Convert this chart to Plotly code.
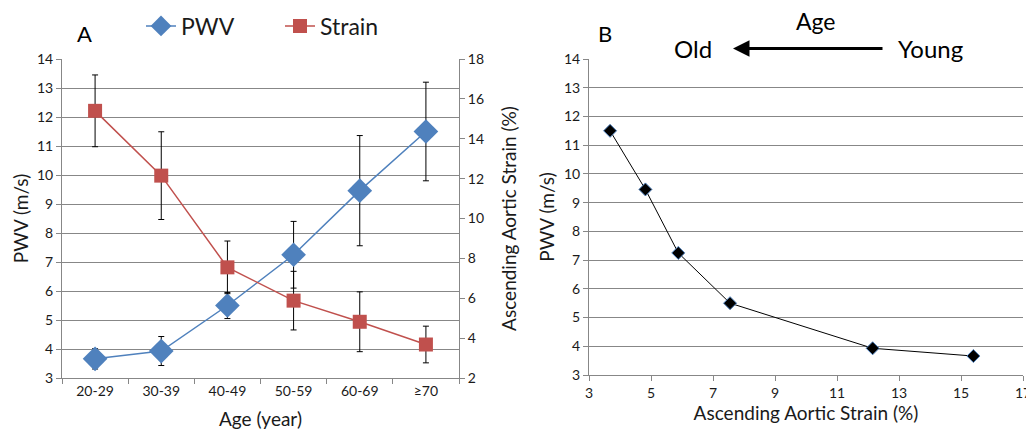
import plotly.graph_objects as go

# ---- data ----
age_groups = ["20-29", "30-39", "40-49", "50-59", "60-69", "\u226570"]
pwv = [3.66, 3.93, 5.50, 7.25, 9.46, 11.50]
pwv_err = [0.35, 0.50, 0.45, 1.15, 1.90, 1.70]
strain = [15.40, 12.15, 7.55, 5.88, 4.82, 3.68]
strain_err = [1.80, 2.20, 1.32, 1.47, 1.50, 0.92]

# page has an 8px body margin; positions below are given in window pixels
OFF = 8
W, H = 1024, 429
FONT = "Lato"
GRID = "#878787"
TXT = "#1a1a1a"

def px(x):
    return (x - OFF) / W

def py(y):
    return 1 - (y - OFF) / H

fig = go.Figure()

# Panel A
fig.add_trace(go.Scatter(
    x=age_groups, y=pwv, name="PWV", mode="lines+markers",
    line=dict(color="#4F81BD", width=1.5),
    marker=dict(symbol="diamond", size=19, color="#4F81BD"),
    error_y=dict(type="data", array=pwv_err, color="black", thickness=1, width=3),
    xaxis="x", yaxis="y"))
fig.add_trace(go.Scatter(
    x=age_groups, y=strain, name="Strain", mode="lines+markers",
    line=dict(color="#C0504D", width=1.5),
    marker=dict(symbol="square", size=14, color="#C0504D"),
    error_y=dict(type="data", array=strain_err, color="black", thickness=1, width=3),
    xaxis="x", yaxis="y2"))

# Panel B
fig.add_trace(go.Scatter(
    x=strain, y=pwv, mode="lines+markers", showlegend=False,
    line=dict(color="black", width=1),
    marker=dict(symbol="diamond", size=10, color="black",
                line=dict(color="#4F81BD", width=1)),
    xaxis="x3", yaxis="y3"))

TICKSZ = 14
TITLESZ = 19
axis_common = dict(showline=True, linecolor=GRID, linewidth=1, automargin=False,
                   tickfont=dict(family=FONT, size=TICKSZ, color=TXT),
                   ticks="outside", ticklen=5, tickcolor=GRID, zeroline=False)

def ttl(text, standoff):
    return dict(text=text, font=dict(family=FONT, size=TITLESZ, color=TXT), standoff=standoff)

fig.update_layout(
    template="none",
    width=W, height=H,
    margin=dict(l=0, r=0, t=0, b=0, autoexpand=False),
    paper_bgcolor="white", plot_bgcolor="white",
    font=dict(family=FONT, color=TXT),
    showlegend=True,
    legend=dict(orientation="h", x=px(141), y=py(26), xanchor="left", yanchor="middle",
                font=dict(family=FONT, size=23, color=TXT),
                entrywidth=94, itemsizing="trace", bgcolor="rgba(0,0,0,0)"),
    xaxis=dict(domain=[px(62), px(459)], anchor="y", type="category",
               range=[-0.5, 5.5], tickson="boundaries", showgrid=False,
               title=ttl("Age (year)", 14), **axis_common),
    yaxis=dict(domain=[py(378), py(59)], anchor="x", range=[3, 14], dtick=1,
               showgrid=True, gridcolor=GRID, gridwidth=1,
               title=ttl("PWV (m/s)", 3), **axis_common),
    yaxis2=dict(domain=[py(378), py(59)], anchor="x", overlaying="y", side="right",
                range=[2, 18], dtick=2, showgrid=False,
                title=ttl("Ascending Aortic Strain (%)", 19), **axis_common),
    xaxis3=dict(domain=[px(589), px(1023)], anchor="y3", range=[3, 17], tick0=3, dtick=2,
                showgrid=False, ticklabeloverflow="allow",
                title=ttl("Ascending Aortic Strain (%)", 6), **axis_common),
    yaxis3=dict(domain=[py(375), py(59)], anchor="x3", range=[3, 14], dtick=1,
                showgrid=True, gridcolor=GRID, gridwidth=1,
                title=ttl("PWV (m/s)", 4), **axis_common),
)

annos = [
    dict(text="A", x=px(84), y=py(34), size=22),
    dict(text="B", x=px(605), y=py(33), size=22),
    dict(text="Age", x=px(816), y=py(21), size=23),
    dict(text="Old", x=px(693), y=py(49), size=24),
    dict(text="Young", x=px(930), y=py(49), size=24),
]
for a in annos:
    fig.add_annotation(text=a["text"], x=a["x"], y=a["y"], xref="paper", yref="paper",
                       xanchor="center", yanchor="middle", showarrow=False,
                       font=dict(family=FONT, size=a["size"], color="black"))

# arrow Young -> Old
fig.add_annotation(x=px(733), y=py(48.5), xref="paper", yref="paper",
                   ax=151, ay=0, axref="pixel", ayref="pixel",
                   text="", showarrow=True, arrowhead=2, arrowsize=1.1,
                   arrowwidth=3, arrowcolor="black")

fig.write_html("out.html")
